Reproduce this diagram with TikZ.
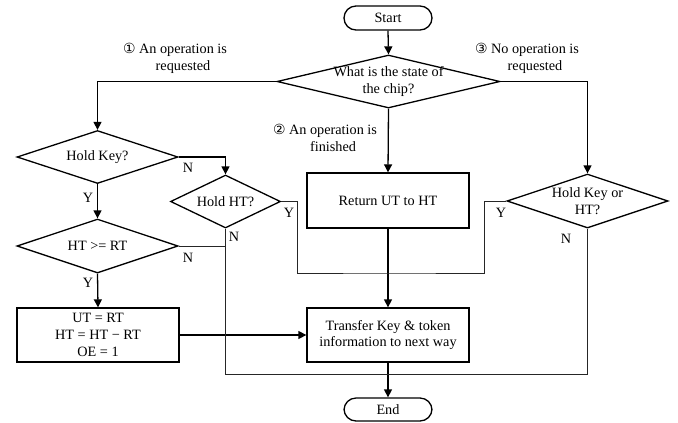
\documentclass[tikz,border=0pt]{standalone}
\usepackage{fontspec}
\setmainfont{Liberation Serif}
\newfontfamily\symfont{DejaVu Sans}
\usetikzlibrary{shapes.geometric,arrows.meta}
\begin{document}
\begin{tikzpicture}[x=1bp,y=-1bp,
  font=\fontsize{14.3}{17}\selectfont,
  thickline/.style={line width=1.3bp},
  thinline/.style={line width=0.8bp, black!85},
  arr/.style={thickline,-{Triangle[length=8bp,width=8bp]}},
  dia/.style={shape=diamond, draw, thickline, inner sep=0pt},
  boxx/.style={draw, thickline, minimum width=162bp, minimum height=54bp, inner sep=0pt, align=center},
  term/.style={draw, thickline, rounded corners=12bp, minimum width=88bp, minimum height=24bp, inner sep=0pt},
  lbl/.style={inner sep=0pt}
]
\useasboundingbox (0,0) rectangle (678,422);

% terminals
\node[term] (start) at (388,18) {Start};
\node[term, minimum height=23bp] (end) at (388,409.5) {End};

% decisions
\node[dia, minimum width=223bp, minimum height=53bp] (q) at (388.5,81.5) {};
\node[lbl, align=center] (qt) at (q) {What is the state of\\the chip?};
\node[dia, minimum width=161bp, minimum height=53bp] (hk) at (97.5,157) {};
\node[lbl] (hkt) at (hk) {Hold Key?};
\node[dia, minimum width=161bp, minimum height=54bp] (ge) at (97.5,246) {};
\node[lbl] (get) at (ge) {HT >= RT};
\node[dia, minimum width=110bp, minimum height=53bp] (hht) at (225.5,201.5) {};
\node[lbl] (hhtt) at (hht) {Hold HT?};
\node[dia, minimum width=161bp, minimum height=54bp] (hko) at (587.5,201) {};
\node[lbl, align=center] (hkot) at (hko) {Hold Key or\\HT?};

% processes
\node[boxx] (ops) at (98,335) {UT = RT\\HT = HT − RT\\OE = 1};
\node[boxx] (tr) at (388,335) {Transfer Key \& token\\information to next way};
\node[boxx, minimum height=55bp] (ret) at (388,200.5) {Return UT to HT};

% branch labels
\node[lbl] (l1) at (175,58.5) {{\symfont\fontsize{14}{16}\selectfont ①}\ \begin{tabular}[t]{@{}c@{}}An operation is\\requested\end{tabular}};
\node[lbl] (l2) at (325,140) {{\symfont\fontsize{14}{16}\selectfont ②}\ \begin{tabular}[t]{@{}c@{}}An operation is\\finished\end{tabular}};
\node[lbl] (l3) at (527,58.5) {{\symfont\fontsize{14}{16}\selectfont ③}\ \begin{tabular}[t]{@{}c@{}}No operation is\\requested\end{tabular}};

% Y/N labels
\node[lbl] (n1) at (188,168) {N};
\node[lbl] (y1) at (88,198) {Y};
\node[lbl] (n2) at (188,258) {N};
\node[lbl] (y2) at (88,283) {Y};
\node[lbl] (n3) at (234,237) {N};
\node[lbl] (y3) at (289,213) {Y};
\node[lbl] (y4) at (501,213) {Y};
\node[lbl] (n4) at (566,239) {N};

% helper coordinates
\coordinate (cy1) at (297,201.5);
\coordinate (jy) at (388,273);
\coordinate (cy2) at (484,201);
\coordinate (jn) at (388,374);

% thick arrows
\draw[arr] (start.south) -- (q.north);
\draw[arr] (q.west) -| (hk.north);
\draw[arr] (q.south) -- (ret.north);
\draw[arr] (q.east) -| (hko.north);
\draw[arr] (hk.east) -| (hht.north);
\draw[arr] (hk.south) -- (ge.north);
\draw[arr] (ge.south) -- (ops.north);
\draw[arr] (ops.east) -- (tr.west);
\draw[arr] (ret.south) -- (tr.north);
\draw[arr] (tr.south) -- (end.north);

% thin joining lines
\draw[thinline] (ge.east) -- (ge.east -| hht.south);
\draw[thinline] (hht.south) |- (jn) -| (hko.south);
\draw[thinline] (hht.east) -- (cy1) |- (jy) -| (cy2) -- (hko.west);
\end{tikzpicture}
\end{document}
